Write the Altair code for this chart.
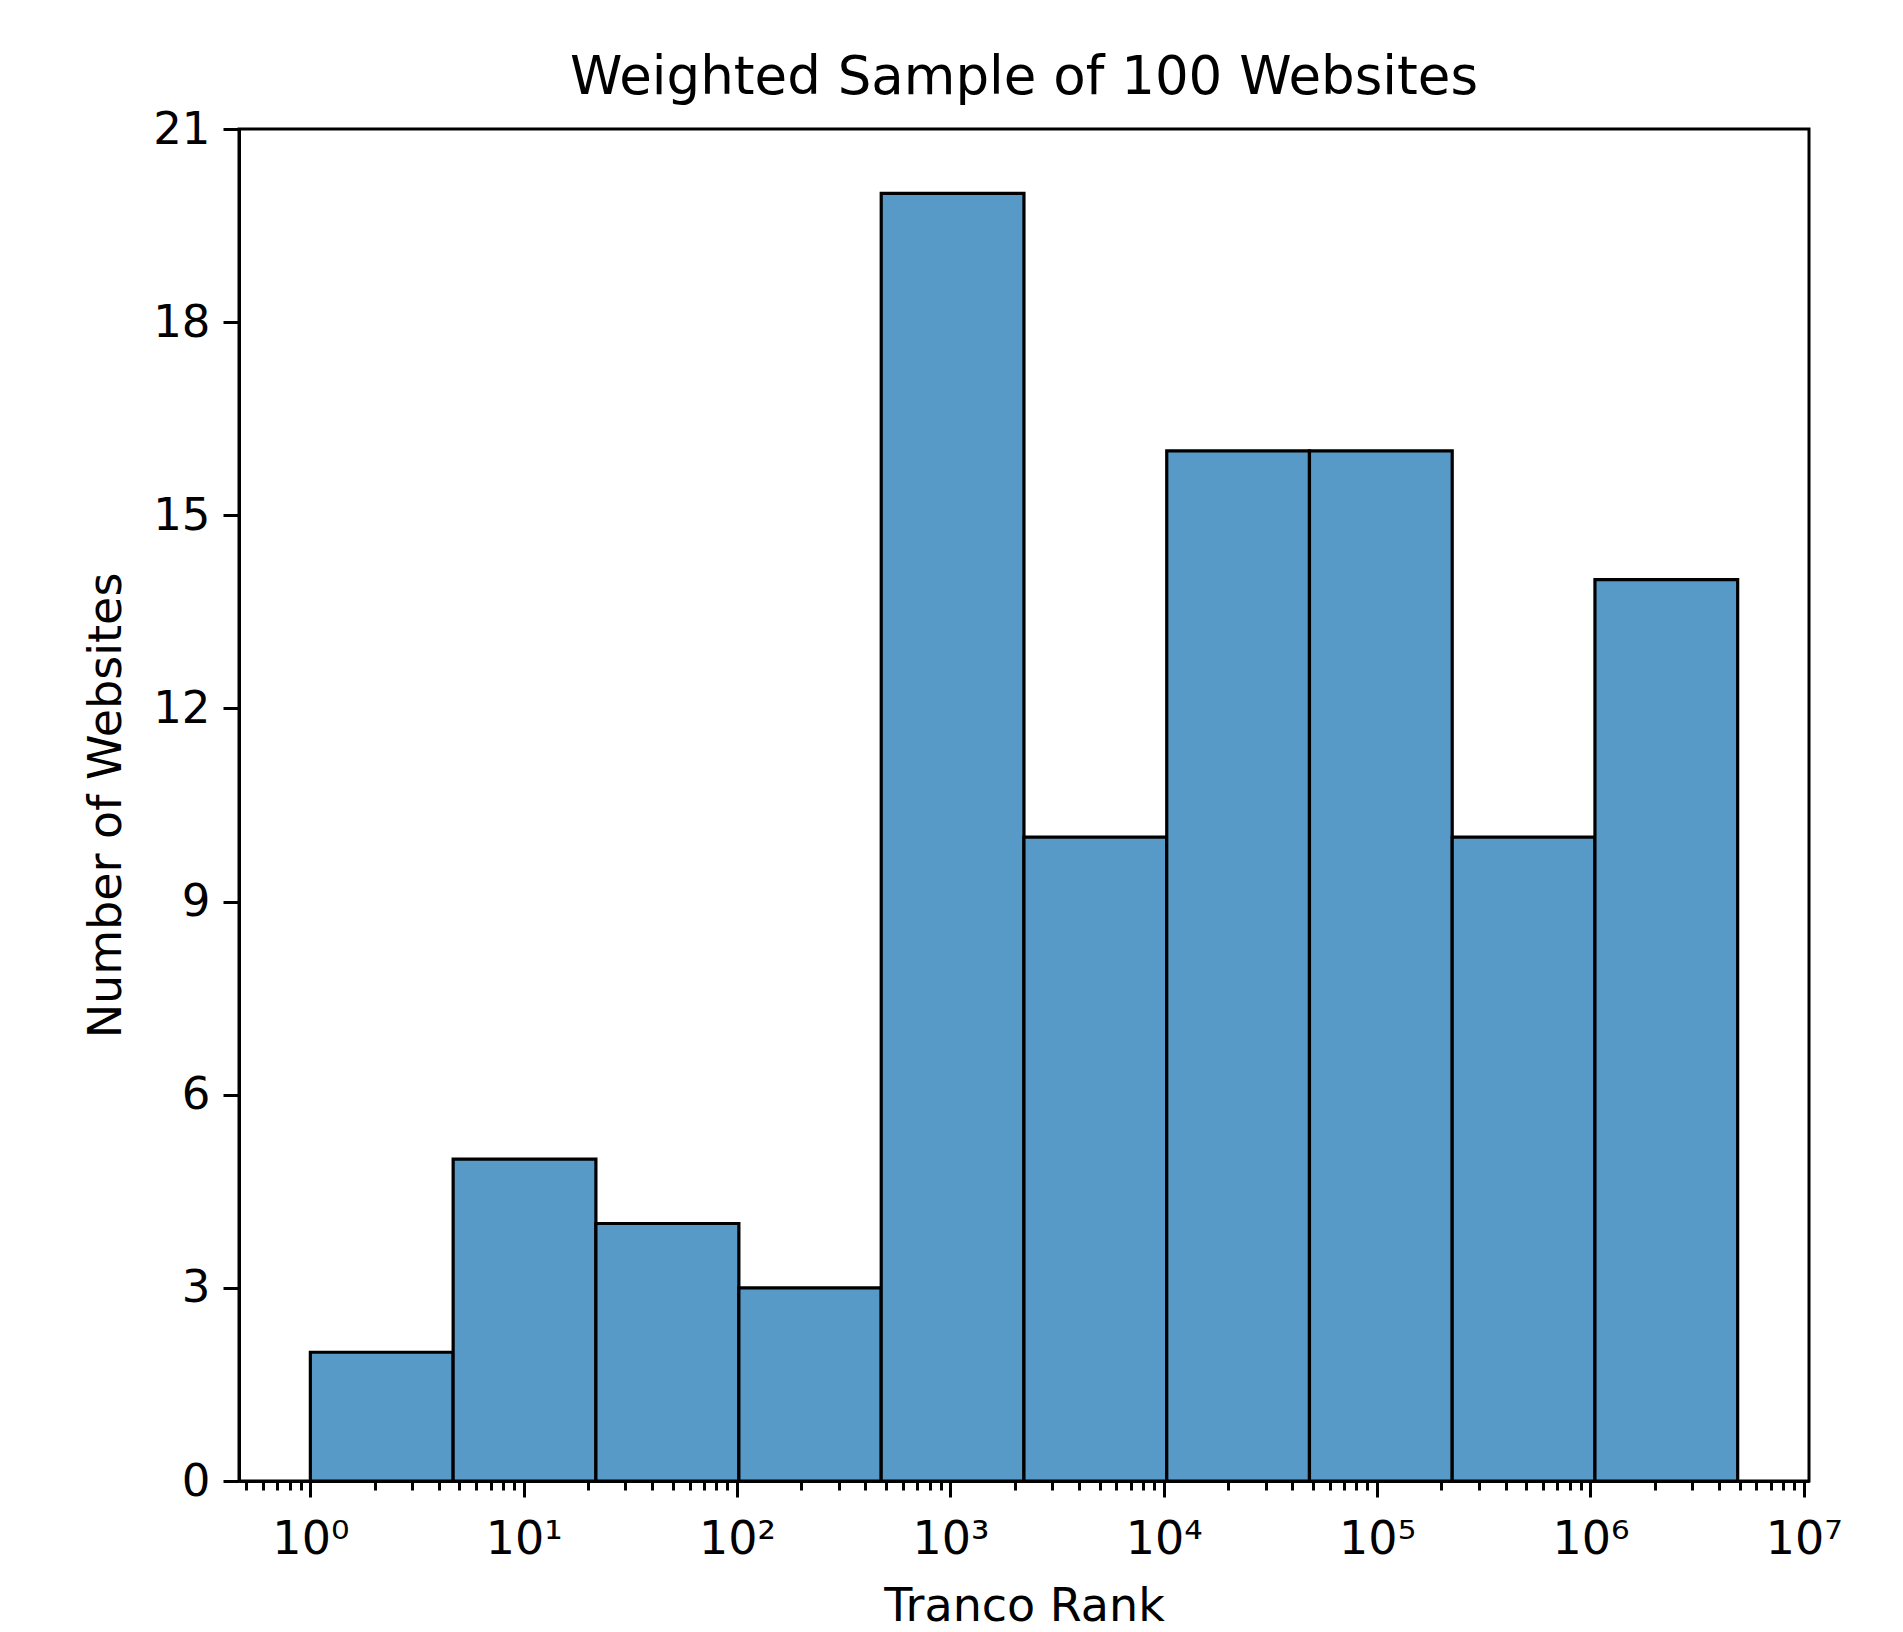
import altair as alt
import pandas as pd

# Histogram bins (Tranco rank, log-spaced edges)
bin_start = [1, 4.67, 21.8, 102, 474, 2212, 10330, 48200, 225000, 1050000]
bin_end = [4.67, 21.8, 102, 474, 2212, 10330, 48200, 225000, 1050000, 4900000]
counts = [2, 5, 4, 3, 20, 10, 16, 16, 10, 14]

major_ticks = [1, 10, 100, 1000, 10000, 100000, 1000000, 10000000]
minor_ticks = [0.5, 0.6, 0.7, 0.8, 0.9]
for base in [1, 10, 100, 1000, 10000, 100000, 1000000]:
    minor_ticks += [base * m for m in range(2, 10)]
y_ticks = [0, 3, 6, 9, 12, 15, 18, 21]

df = pd.DataFrame({"start": bin_start, "end": bin_end, "count": counts})

FONT = "DejaVu Sans"
is_major = "abs(log(datum.value)/LN10 - round(log(datum.value)/LN10)) < 0.000001"

x_axis = alt.Axis(
    values=major_ticks + minor_ticks,
    labelExpr="(" + is_major + ") ? '10' + ['⁰','¹','²','³','⁴','⁵','⁶','⁷'][round(log(datum.value)/LN10)] : ''",
    tickSize={"condition": {"test": is_major, "value": 16}, "value": 9},
    labelOverlap=False,
    labelFlush=False,
    grid=False,
    title="Tranco Rank",
    titleFontSize=46,
    titleFontWeight="normal",
    titlePadding=22,
    labelFontSize=46,
    labelPadding=20,
)

y_axis = alt.Axis(
    values=y_ticks,
    grid=False,
    title="Number of Websites",
    titleFontSize=46,
    titleFontWeight="normal",
    titlePadding=22,
    labelFontSize=45,
    labelPadding=13,
    tickSize=16,
)

chart = (
    alt.Chart(df)
    .mark_rect(fill="#5799c7", stroke="black", strokeWidth=3.2)
    .encode(
        x=alt.X("start:Q",
                scale=alt.Scale(type="log", domain=[0.463, 10580000], nice=False),
                axis=x_axis),
        x2="end:Q",
        y=alt.Y("count:Q", scale=alt.Scale(domain=[0, 21], nice=False), axis=y_axis),
        y2=alt.datum(0),
    )
    .properties(
        width=1570,
        height=1352,
        padding={"left": 75, "top": 44, "right": 5, "bottom": 5},
        title=alt.TitleParams("Weighted Sample of 100 Websites", fontSize=53,
                              fontWeight="normal", offset=2, font=FONT, color="black"),
    )
    .configure(font=FONT)
    .configure_axis(
        labelFont=FONT, titleFont=FONT, labelColor="black", titleColor="black",
        domainColor="black", domainWidth=3, tickColor="black", tickWidth=3,
    )
    .configure_view(stroke="black", strokeWidth=3)
)

chart.save("out.html", embed_options={"renderer": "svg", "actions": False})
